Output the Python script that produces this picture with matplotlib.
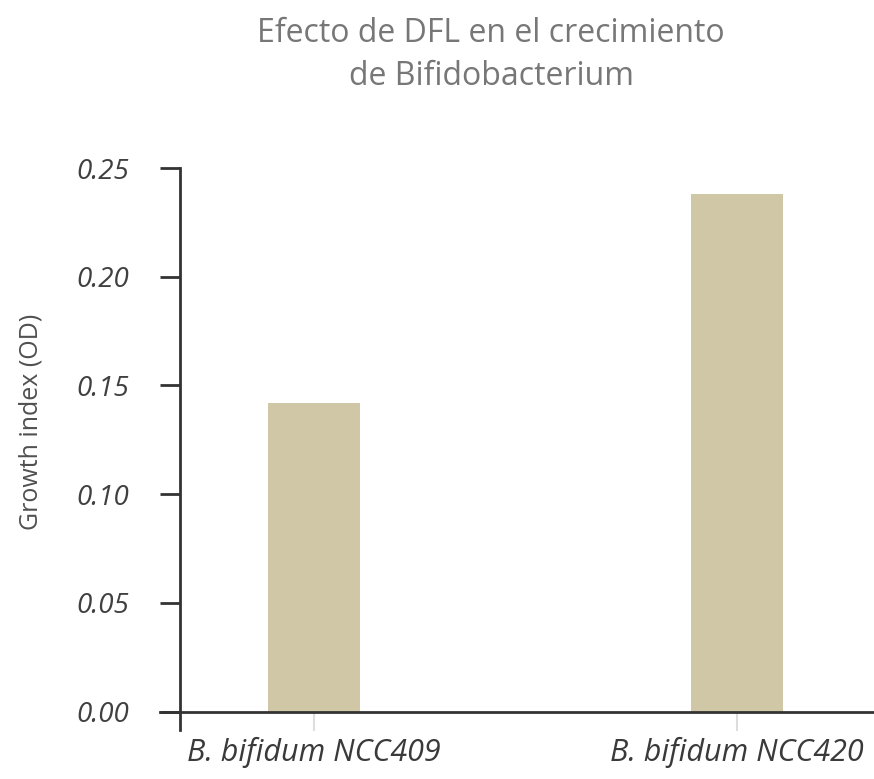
import matplotlib
matplotlib.use("Agg")
import matplotlib.pyplot as plt

# Growth of Bifidobacterium strains with DFL
strains = ["B. bifidum NCC409", "B. bifidum NCC420"]
growth_od = [0.142, 0.238]
y_ticks = [0.00, 0.05, 0.10, 0.15, 0.20, 0.25]

plt.rcParams["font.family"] = ["Open Sans", "DejaVu Sans"]

W, H = 874, 779
fig = plt.figure(figsize=(W / 100, H / 100), dpi=100)

# axes box in pixels: left 160, right 874, bottom 730, top 168
left_px, right_px, bot_px, top_px = 160, 874, 730, 168
ax = fig.add_axes([left_px / W, 1 - bot_px / H,
                   (right_px - left_px) / W, (bot_px - top_px) / H])

positions = list(range(len(strains)))
ax.bar(positions, growth_od, width=0.2175, color="#d0c7a6", zorder=2)

ax.set_xlim(-0.364, 1.324)
ax.set_ylim(-0.0085, 0.25)

for s in ["top", "right"]:
    ax.spines[s].set_visible(False)
ax.spines["bottom"].set_position(("data", 0))
ax.spines["left"].set_position(("data", -0.3168))
for s in ["bottom", "left"]:
    ax.spines[s].set_color("#333333")
    ax.spines[s].set_linewidth(2)
    ax.spines[s].set_zorder(3)

ax.set_yticks(y_ticks)
ax.set_yticklabels([f"{v:.2f}" for v in y_ticks], fontsize=20,
                   style="italic", color="#404040")
ax.tick_params(axis="y", length=14.4, width=2, color="#333333", pad=22)

ax.set_xticks(positions)
ax.set_xticklabels(strains, fontsize=22, style="italic", color="#3a3a3a")
ax.tick_params(axis="x", length=14, width=1.5, color="#dddddd", pad=4)

ax.set_ylabel("Growth index (OD)", fontsize=18, color="#505050")
ax.yaxis.set_label_coords(-0.163, 0.548)

fig.text(0.562, 0.978, "Efecto de DFL en el crecimiento\nde Bifidobacterium",
         ha="center", va="top", fontsize=23, color="#777777",
         linespacing=1.4)

fig.savefig("out.png", dpi=100)
